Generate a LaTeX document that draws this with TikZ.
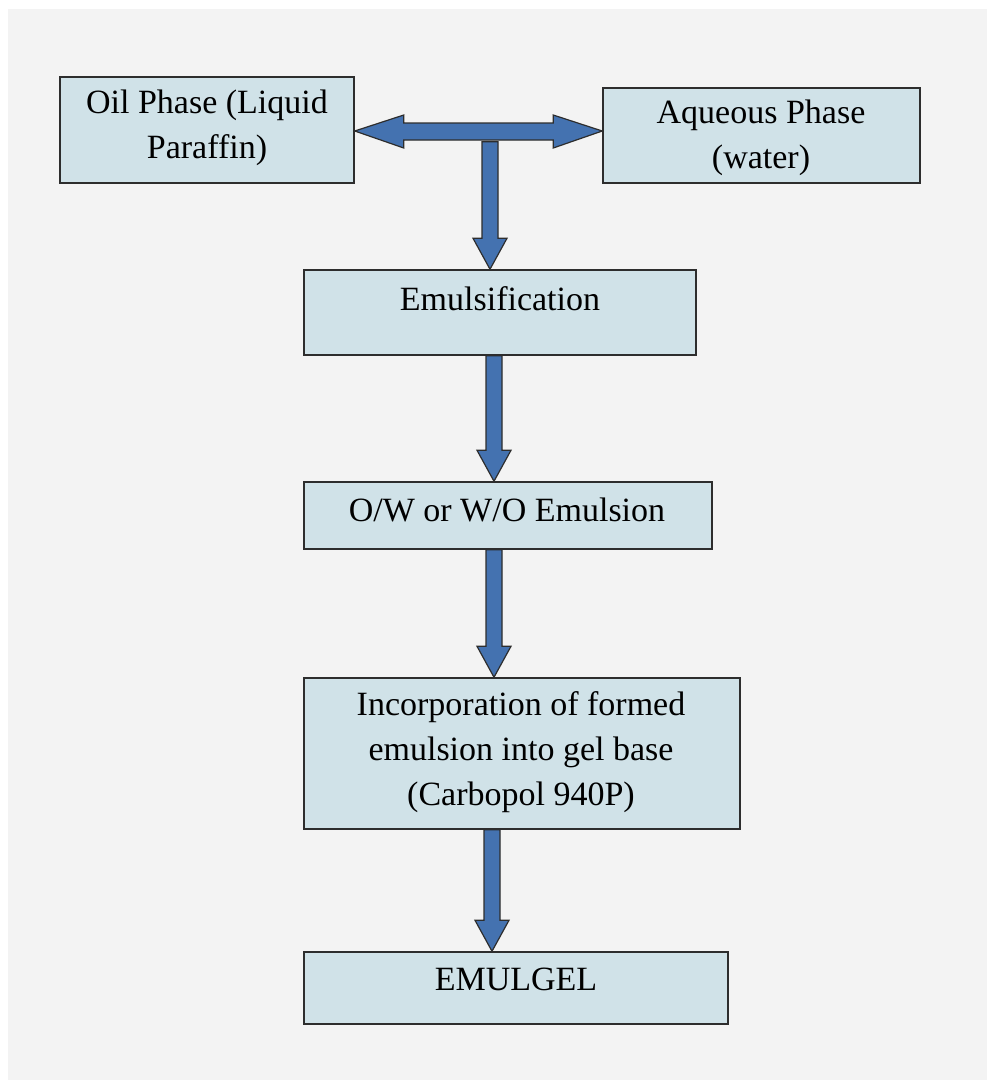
\documentclass[tikz,border=0pt]{standalone}
\usepackage{fontspec}
\setmainfont{Liberation Serif}
\usetikzlibrary{calc}
\definecolor{bgc}{RGB}{243,243,243}
\definecolor{boxc}{RGB}{208,226,232}
\definecolor{arrc}{RGB}{68,114,176}
\definecolor{edgec}{RGB}{45,45,45}
\tikzset{
  box/.style={draw=edgec, line width=1.5pt, fill=boxc, rectangle, inner sep=0pt},
  lbl/.style={inner sep=0pt, align=center, font=\fontsize{34}{45}\selectfont, text=black},
  barrow/.style={draw=edgec, line width=1.2pt, fill=arrc, line join=miter},
}
\newcommand{\blockdown}[2]{%
  \draw[barrow] let \p1=(#1), \p2=(#2) in
    (\x2-8pt,\y1) -- (\x2+8pt,\y1) -- (\x2+8pt,\y2+31pt) -- (\x2+17pt,\y2+31pt)
    -- (\x2,\y2) -- (\x2-17pt,\y2+31pt) -- (\x2-8pt,\y2+31pt) -- cycle;}
\begin{document}
\begin{tikzpicture}[x=1pt,y=-1pt]
\useasboundingbox (0,0) rectangle (987,1080);
\fill[white] (0,0) rectangle (987,1080);
\fill[bgc] (8,9) rectangle (987,1080);
% boxes
\node[box, minimum width=294pt, minimum height=106pt] (oil) at (207,130) {};
\node[box, minimum width=317pt, minimum height=95pt] (aq) at (761.5,135.5) {};
\node[box, minimum width=392pt, minimum height=85pt] (emul) at (500,312.5) {};
\node[box, minimum width=408pt, minimum height=67pt] (ow) at (508,515.5) {};
\node[box, minimum width=436pt, minimum height=151pt] (inc) at (522,753.5) {};
\node[box, minimum width=424pt, minimum height=72pt] (gel) at (516,988) {};
% labels
\node[lbl] (toil) at (207,128) {Oil Phase (Liquid\\Paraffin)};
\node[lbl] (taq) at (761,138) {Aqueous Phase\\(water)};
\node[lbl] (temul) at (500,299) {Emulsification};
\node[lbl] (tow) at (507,510) {O/W or W/O Emulsion};
\node[lbl] (tinc) at (521,752) {Incorporation of formed\\emulsion into gel base\\(Carbopol 940P)};
\node[lbl] (tgel) at (516,979) {EMULGEL};
% T-junction coordinate
\coordinate (tj) at ($(oil.east)!0.5!(aq.west)$);
% vertical stem from the double arrow to emulsification
\blockdown{$(tj)+(0,9)$}{$(emul.north)+(-10,0)$}
% double horizontal arrow
\draw[barrow] let \p1=(oil.east), \p2=(aq.west) in
  (\x1,-131pt) -- (\x1+49pt,-115pt) -- (\x1+49pt,-123pt) -- (\x2-49pt,-123pt)
  -- (\x2-49pt,-115pt) -- (\x2,-131pt) -- (\x2-49pt,-148pt) -- (\x2-49pt,-140pt)
  -- (\x1+49pt,-140pt) -- (\x1+49pt,-148pt) -- cycle;
% vertical arrows
\blockdown{$(emul.south)+(-6,0)$}{$(ow.north)+(-14,0)$}
\blockdown{$(ow.south)+(-14,0)$}{$(inc.north)+(-28,0)$}
\blockdown{$(inc.south)+(-30,0)$}{$(gel.north)+(-24,0)$}
\end{tikzpicture}
\end{document}
